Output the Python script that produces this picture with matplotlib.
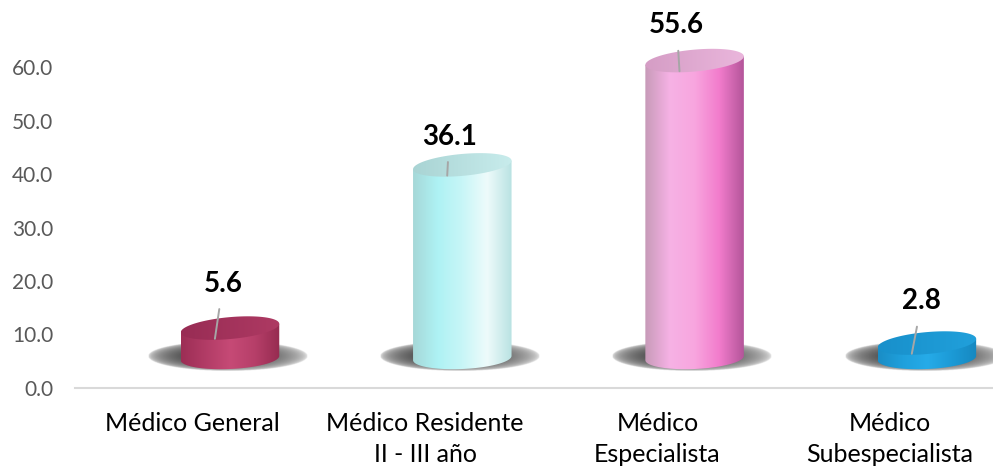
import numpy as np
import matplotlib
matplotlib.use("Agg")
import matplotlib.pyplot as plt
from matplotlib.colors import LinearSegmentedColormap
from matplotlib.patches import Polygon

plt.rcParams['font.family'] = ['Lato', 'DejaVu Sans']

categories = ['Médico General', 'Médico Residente\nII - III año',
              'Médico\nEspecialista', 'Médico\nSubespecialista']
values = [5.6, 36.1, 55.6, 2.8]

# side shading (left -> right) and lid shading for each cylinder
side_colors = [
    ['#9C2E55', '#B23C66', '#C64A76', '#B63F69', '#962B50'],
    ['#A6D8D8', '#AEF2F4', '#C8F6F7', '#EEFBFB', '#B9E2E2'],
    ['#C79AB8', '#F6B2E5', '#F8A6DF', '#F27CCC', '#B4559A'],
    ['#1A8DC6', '#1FA0DC', '#26ABE8', '#1C9AD6', '#1688C0'],
]
lid_colors = [
    ['#982C54', '#AE3A63'],
    ['#A9D4D4', '#C8ECEC'],
    ['#D59DC5', '#EAB6DC'],
    ['#1890CB', '#21A0DB'],
]
# where each value label sits relative to the lid
label_dx = [-0.03, -0.056, -0.077, -0.022]
label_dy = [8.3, 5.3, 6.6, 7.8]

base = 5.6       # floor height of the 3d plot
half_w = 0.212   # cylinder radius in x units
ry = 2.05        # lid half-height in y units
tilt_top = 0.8   # perspective lift of the lid's right edge, y units
tilt_bot = 0.4

fig = plt.figure(figsize=(9.93, 4.72), dpi=100)
# axes run to the top edge so the tallest lid and its label are not clipped
ax = fig.add_axes([75 / 993, (472 - 388) / 472, 1 - 75 / 993, 388 / 472])

x = np.arange(len(values))
th = np.linspace(0, 2 * np.pi, 120)
arc = np.linspace(0, np.pi, 60)

# soft shadow texture, darker on the left
gx = np.linspace(-1, 1, 240)
gy = np.linspace(-1, 1, 90)
GX, GY = np.meshgrid(gx, gy)
r = np.sqrt(GX ** 2 + GY ** 2)
shadow = np.zeros((90, 240, 4))
shadow[..., :3] = 0.2
shadow[..., 3] = np.clip(np.clip(1 - r, 0, 1) ** 0.38 * (1.05 - 0.15 * GX), 0, 1)


def gradient_fill(pts, colors, extent, z, name):
    patch = Polygon(pts, closed=True, facecolor='none', edgecolor='none')
    ax.add_patch(patch)
    cmap = LinearSegmentedColormap.from_list(name, colors)
    im = ax.imshow(cmap(np.linspace(0, 1, 256))[None, :, :], extent=extent,
                   aspect='auto', interpolation='bilinear', zorder=z)
    im.set_clip_path(patch)


for i, v in enumerate(values):
    xc = x[i]
    top = base + v

    sx, sy = half_w * 1.62, 2.8
    ax.imshow(shadow, extent=(xc - 0.01 - sx, xc - 0.01 + sx, base + 0.3 - sy, base + 0.3 + sy),
              aspect='auto', interpolation='bilinear', zorder=1)

    # cylinder body, rounded at the bottom
    bx = xc - half_w * np.cos(arc)
    by = base - ry * np.sin(arc) - tilt_bot * np.cos(arc)
    pts = np.column_stack([bx, by])
    pts = np.vstack([pts, [[xc + half_w, top + tilt_top], [xc - half_w, top - tilt_top]]])
    gradient_fill(pts, side_colors[i],
                  (xc - half_w, xc + half_w, base - ry - tilt_bot, top + tilt_top), 2, 'side%d' % i)

    # lid
    lx_ = xc + half_w * np.cos(th)
    ly_ = top + ry * np.sin(th) + tilt_top * np.cos(th)
    gradient_fill(np.column_stack([lx_, ly_]), lid_colors[i],
                  (xc - half_w, xc + half_w, top - ry - tilt_top, top + ry + tilt_top), 3, 'lid%d' % i)

    # value label with leader line
    ax.annotate(f'{v:.1f}', xy=(xc - 0.065, top - 2.0),
                xytext=(xc + label_dx[i], top + label_dy[i]),
                ha='center', va='center', fontsize=20, fontweight='bold',
                color='black', zorder=5,
                arrowprops=dict(arrowstyle='-', color='#A6A6A6', lw=1.4,
                                shrinkA=7, shrinkB=0))

ax.set_xlim((75 - 230) / 232.3, (993 - 230) / 232.3)
ax.set_ylim(0, 388 / 5.35)

ax.set_yticks(np.arange(0, 61, 10))
ax.set_yticklabels([f'{v:.1f}' for v in np.arange(0, 61, 10)])
ax.set_xticks(x - 0.16)
ax.set_xticklabels(categories, linespacing=1.45)
ax.tick_params(axis='y', length=0, pad=15.5, labelsize=15, labelcolor='#595959')
ax.tick_params(axis='x', length=0, pad=17, labelsize=18, labelcolor='black')

for side in ['top', 'right', 'left']:
    ax.spines[side].set_visible(False)
ax.spines['bottom'].set_color('#D9D9D9')
ax.spines['bottom'].set_linewidth(1.5)
ax.set_facecolor('none')

fig.savefig('out.png', dpi=100)
